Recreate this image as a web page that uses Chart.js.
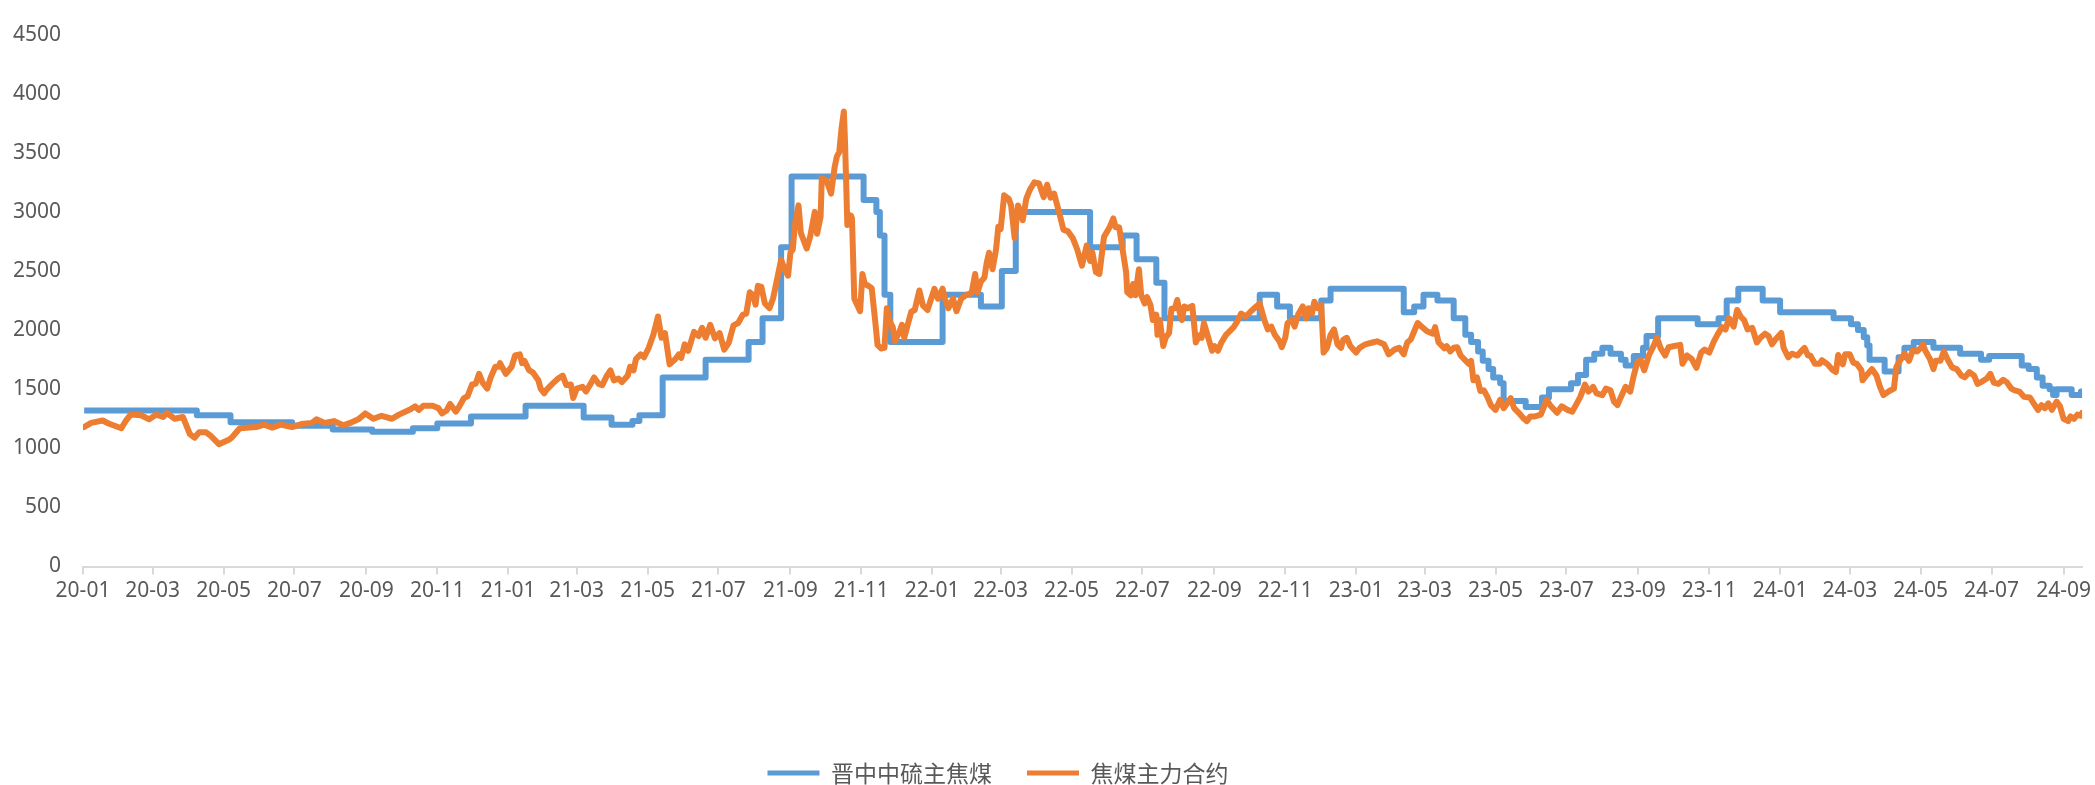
<!DOCTYPE html>
<html>
<head>
<meta charset="utf-8">
<script src="https://cdn.jsdelivr.net/npm/chart.js@4.4.1/dist/chart.umd.min.js"></script>
<style>
  html, body { margin: 0; padding: 0; background: #fff; }
  #wrap { position: relative; width: 2095px; height: 785px; }
</style>
</head>
<body>
<div id="wrap"><canvas id="chart"></canvas></div>
<script>
// 晋中中硫主焦煤 spot price: date of each price change and the new price
const spotDates = [
  '2020-01-02', '2020-04-08', '2020-05-07', '2020-06-29', '2020-08-03', '2020-09-06', '2020-10-11',
  '2020-11-01', '2020-11-30', '2021-01-16', '2021-03-07', '2021-03-31', '2021-04-18', '2021-04-24',
  '2021-05-14', '2021-06-20', '2021-07-27', '2021-08-08', '2021-08-24', '2021-09-02', '2021-11-03',
  '2021-11-14', '2021-11-17', '2021-11-21', '2021-11-26', '2022-01-10', '2022-02-12', '2022-03-02',
  '2022-03-14', '2022-05-17', '2022-06-14', '2022-06-26', '2022-07-13', '2022-07-20', '2022-10-10',
  '2022-10-25', '2022-11-05', '2022-12-02', '2022-12-10', '2023-02-11', '2023-02-20', '2023-02-28',
  '2023-03-12', '2023-03-26', '2023-04-05', '2023-04-10', '2023-04-16', '2023-04-20', '2023-04-25',
  '2023-04-29', '2023-05-05', '2023-05-08', '2023-05-27', '2023-06-10', '2023-06-16', '2023-07-05',
  '2023-07-11', '2023-07-18', '2023-07-25', '2023-08-01', '2023-08-08', '2023-08-17', '2023-08-21',
  '2023-08-28', '2023-09-05', '2023-09-08', '2023-09-18', '2023-10-22', '2023-11-09', '2023-11-16',
  '2023-11-26', '2023-12-17', '2024-01-01', '2024-02-16', '2024-03-02', '2024-03-08', '2024-03-13',
  '2024-03-16', '2024-03-18', '2024-03-31', '2024-04-12', '2024-04-17', '2024-04-25', '2024-05-12',
  '2024-06-04', '2024-06-22', '2024-06-29', '2024-07-27', '2024-08-02', '2024-08-09', '2024-08-14',
  '2024-08-20', '2024-08-23', '2024-08-26', '2024-09-08', '2024-09-16', '2024-09-17'
];
const spotPrices = [
  1320, 1280, 1220, 1190, 1160, 1140, 1170,
  1210, 1270, 1360, 1260, 1200, 1230, 1280,
  1600, 1750, 1900, 2100, 2700, 3300, 3100,
  3000, 2800, 2300, 1900, 2300, 2200, 2500,
  3000, 2700, 2800, 2600, 2400, 2100, 2300,
  2200, 2100, 2250, 2350, 2150, 2200, 2300,
  2250, 2100, 1960, 1900, 1820, 1740, 1670,
  1600, 1550, 1400, 1350, 1430, 1500, 1550,
  1620, 1750, 1800, 1850, 1800, 1750, 1700,
  1780, 1850, 1950, 2100, 2050, 2100, 2250,
  2350, 2250, 2150, 2100, 2050, 2000, 1940,
  1870, 1750, 1650, 1770, 1850, 1900, 1850,
  1800, 1750, 1780, 1700, 1670, 1600, 1530,
  1500, 1450, 1500, 1450, 1480, 1480
];

// 焦煤主力合约 closing prices
const futuresDates = [
  '2020-01-02', '2020-01-08', '2020-01-18', '2020-01-23', '2020-02-03', '2020-02-07', '2020-02-11', '2020-02-20',
  '2020-02-27', '2020-03-04', '2020-03-10', '2020-03-13', '2020-03-20', '2020-03-27', '2020-04-02', '2020-04-06',
  '2020-04-10', '2020-04-16', '2020-04-20', '2020-04-27', '2020-05-06', '2020-05-08', '2020-05-15', '2020-05-29',
  '2020-06-05', '2020-06-12', '2020-06-19', '2020-06-29', '2020-07-07', '2020-07-16', '2020-07-20', '2020-07-27',
  '2020-08-04', '2020-08-12', '2020-08-18', '2020-08-25', '2020-08-31', '2020-09-07', '2020-09-14', '2020-09-23',
  '2020-09-29', '2020-10-09', '2020-10-13', '2020-10-16', '2020-10-20', '2020-10-28', '2020-11-02', '2020-11-05',
  '2020-11-09', '2020-11-12', '2020-11-17', '2020-11-20', '2020-11-24', '2020-11-27', '2020-12-01', '2020-12-04',
  '2020-12-07', '2020-12-10', '2020-12-14', '2020-12-17', '2020-12-21', '2020-12-24', '2020-12-25', '2020-12-30',
  '2021-01-04', '2021-01-07', '2021-01-11', '2021-01-13', '2021-01-15', '2021-01-19', '2021-01-22', '2021-01-27',
  '2021-01-29', '2021-02-01', '2021-02-03', '2021-02-08', '2021-02-13', '2021-02-17', '2021-02-20', '2021-02-24',
  '2021-02-26', '2021-03-01', '2021-03-06', '2021-03-09', '2021-03-13', '2021-03-16', '2021-03-20', '2021-03-23',
  '2021-03-27', '2021-03-30', '2021-04-02', '2021-04-06', '2021-04-09', '2021-04-14', '2021-04-16', '2021-04-19',
  '2021-04-21', '2021-04-25', '2021-04-28', '2021-05-02', '2021-05-06', '2021-05-10', '2021-05-13', '2021-05-16',
  '2021-05-20', '2021-05-25', '2021-05-28', '2021-05-30', '2021-06-02', '2021-06-05', '2021-06-10', '2021-06-14',
  '2021-06-17', '2021-06-20', '2021-06-24', '2021-06-28', '2021-07-02', '2021-07-06', '2021-07-10', '2021-07-14',
  '2021-07-18', '2021-07-22', '2021-07-25', '2021-07-28', '2021-07-31', '2021-08-02', '2021-08-04', '2021-08-07',
  '2021-08-10', '2021-08-14', '2021-08-17', '2021-08-20', '2021-08-24', '2021-08-27', '2021-08-30', '2021-09-01',
  '2021-09-03', '2021-09-05', '2021-09-08', '2021-09-10', '2021-09-12', '2021-09-15', '2021-09-18', '2021-09-22',
  '2021-09-24', '2021-09-27', '2021-09-28', '2021-10-02', '2021-10-06', '2021-10-09', '2021-10-11', '2021-10-13',
  '2021-10-15', '2021-10-17', '2021-10-18', '2021-10-20', '2021-10-23', '2021-10-24', '2021-10-26', '2021-10-31',
  '2021-11-02', '2021-11-04', '2021-11-07', '2021-11-10', '2021-11-13', '2021-11-15', '2021-11-18', '2021-11-21',
  '2021-11-23', '2021-11-26', '2021-11-28', '2021-11-30', '2021-12-04', '2021-12-06', '2021-12-08', '2021-12-11',
  '2021-12-14', '2021-12-17', '2021-12-21', '2021-12-24', '2021-12-28', '2022-01-03', '2022-01-06', '2022-01-10',
  '2022-01-12', '2022-01-15', '2022-01-19', '2022-01-22', '2022-01-26', '2022-01-30', '2022-02-04', '2022-02-07',
  '2022-02-09', '2022-02-12', '2022-02-15', '2022-02-17', '2022-02-19', '2022-02-22', '2022-02-25', '2022-02-27',
  '2022-03-01', '2022-03-04', '2022-03-08', '2022-03-10', '2022-03-13', '2022-03-16', '2022-03-20', '2022-03-23',
  '2022-03-26', '2022-03-30', '2022-04-03', '2022-04-07', '2022-04-10', '2022-04-13', '2022-04-16', '2022-04-21',
  '2022-04-24', '2022-04-28', '2022-05-02', '2022-05-06', '2022-05-10', '2022-05-14', '2022-05-17', '2022-05-19',
  '2022-05-22', '2022-05-25', '2022-05-29', '2022-06-03', '2022-06-06', '2022-06-08', '2022-06-11', '2022-06-14',
  '2022-06-17', '2022-06-18', '2022-06-21', '2022-06-23', '2022-06-25', '2022-06-28', '2022-06-30', '2022-07-03',
  '2022-07-05', '2022-07-08', '2022-07-10', '2022-07-13', '2022-07-14', '2022-07-16', '2022-07-19', '2022-07-21',
  '2022-07-24', '2022-07-26', '2022-07-29', '2022-07-31', '2022-08-02', '2022-08-04', '2022-08-06', '2022-08-09',
  '2022-08-13', '2022-08-16', '2022-08-19', '2022-08-21', '2022-08-23', '2022-08-26', '2022-08-30', '2022-09-01',
  '2022-09-04', '2022-09-07', '2022-09-11', '2022-09-14', '2022-09-18', '2022-09-21', '2022-09-24', '2022-09-28',
  '2022-10-02', '2022-10-07', '2022-10-10', '2022-10-14', '2022-10-17', '2022-10-20', '2022-10-23', '2022-10-27',
  '2022-10-29', '2022-11-01', '2022-11-03', '2022-11-07', '2022-11-09', '2022-11-12', '2022-11-16', '2022-11-19',
  '2022-11-21', '2022-11-24', '2022-11-26', '2022-11-29', '2022-12-02', '2022-12-04', '2022-12-07', '2022-12-10',
  '2022-12-13', '2022-12-16', '2022-12-19', '2022-12-21', '2022-12-24', '2022-12-27', '2023-01-01', '2023-01-04',
  '2023-01-09', '2023-01-15', '2023-01-19', '2023-01-25', '2023-01-29', '2023-02-03', '2023-02-07', '2023-02-11',
  '2023-02-14', '2023-02-17', '2023-02-20', '2023-02-23', '2023-02-27', '2023-03-03', '2023-03-08', '2023-03-10',
  '2023-03-13', '2023-03-18', '2023-03-20', '2023-03-23', '2023-03-26', '2023-03-29', '2023-04-01', '2023-04-04',
  '2023-04-08', '2023-04-10', '2023-04-12', '2023-04-15', '2023-04-18', '2023-04-21', '2023-04-24', '2023-04-27',
  '2023-05-01', '2023-05-05', '2023-05-08', '2023-05-11', '2023-05-14', '2023-05-17', '2023-05-21', '2023-05-25',
  '2023-05-28', '2023-05-31', '2023-06-04', '2023-06-09', '2023-06-14', '2023-06-17', '2023-06-23', '2023-06-27',
  '2023-07-02', '2023-07-06', '2023-07-10', '2023-07-13', '2023-07-17', '2023-07-20', '2023-07-24', '2023-07-27',
  '2023-08-01', '2023-08-04', '2023-08-08', '2023-08-11', '2023-08-14', '2023-08-17', '2023-08-21', '2023-08-25',
  '2023-08-28', '2023-08-31', '2023-09-03', '2023-09-06', '2023-09-10', '2023-09-14', '2023-09-17', '2023-09-20',
  '2023-09-24', '2023-09-27', '2023-10-02', '2023-10-07', '2023-10-09', '2023-10-13', '2023-10-17', '2023-10-21',
  '2023-10-25', '2023-10-28', '2023-11-01', '2023-11-05', '2023-11-08', '2023-11-12', '2023-11-15', '2023-11-18',
  '2023-11-22', '2023-11-25', '2023-11-28', '2023-12-01', '2023-12-04', '2023-12-08', '2023-12-12', '2023-12-15',
  '2023-12-19', '2023-12-22', '2023-12-25', '2023-12-28', '2024-01-02', '2024-01-04', '2024-01-08', '2024-01-11',
  '2024-01-16', '2024-01-19', '2024-01-22', '2024-01-25', '2024-01-27', '2024-01-31', '2024-02-04', '2024-02-06',
  '2024-02-11', '2024-02-15', '2024-02-18', '2024-02-20', '2024-02-24', '2024-02-26', '2024-03-01', '2024-03-04',
  '2024-03-07', '2024-03-11', '2024-03-12', '2024-03-16', '2024-03-20', '2024-03-24', '2024-03-27', '2024-03-30',
  '2024-04-04', '2024-04-08', '2024-04-10', '2024-04-14', '2024-04-17', '2024-04-21', '2024-04-24', '2024-04-28',
  '2024-05-01', '2024-05-03', '2024-05-05', '2024-05-09', '2024-05-12', '2024-05-14', '2024-05-18', '2024-05-21',
  '2024-05-24', '2024-05-28', '2024-06-01', '2024-06-05', '2024-06-08', '2024-06-12', '2024-06-16', '2024-06-19',
  '2024-06-22', '2024-06-27', '2024-06-30', '2024-07-03', '2024-07-07', '2024-07-11', '2024-07-14', '2024-07-18',
  '2024-07-21', '2024-07-25', '2024-07-29', '2024-08-03', '2024-08-06', '2024-08-10', '2024-08-13', '2024-08-16',
  '2024-08-19', '2024-08-22', '2024-08-26', '2024-08-29', '2024-09-01', '2024-09-05', '2024-09-07', '2024-09-10',
  '2024-09-13', '2024-09-16', '2024-09-17'
];
const futuresPrices = [
  1180, 1215, 1235, 1210, 1170, 1235, 1285, 1280,
  1245, 1285, 1265, 1300, 1250, 1265, 1120, 1090,
  1135, 1135, 1105, 1035, 1075, 1090, 1170, 1180,
  1200, 1175, 1200, 1180, 1205, 1215, 1245, 1215,
  1230, 1195, 1215, 1245, 1295, 1250, 1275, 1250,
  1285, 1330, 1355, 1325, 1360, 1360, 1340, 1295,
  1320, 1375, 1310, 1355, 1425, 1440, 1540, 1545,
  1630, 1555, 1505, 1600, 1690, 1690, 1720, 1630,
  1690, 1785, 1795, 1720, 1740, 1660, 1645, 1575,
  1505, 1465, 1495, 1545, 1590, 1615, 1535, 1540,
  1425, 1505, 1520, 1480, 1545, 1600, 1545, 1535,
  1615, 1660, 1575, 1590, 1560, 1615, 1690, 1660,
  1755, 1795, 1770, 1850, 1960, 2115, 1935, 1975,
  1710, 1755, 1795, 1765, 1880, 1825, 1985, 1950,
  2020, 1935, 2045, 1930, 1975, 1835, 1895, 2040,
  2060, 2130, 2140, 2320, 2295, 2215, 2375, 2365,
  2225, 2185, 2265, 2405, 2595, 2515, 2460, 2655,
  2680, 2905, 3055, 2820, 2770, 2690, 2790, 3000,
  2815, 2960, 3285, 3265, 3155, 3375, 3470, 3505,
  3705, 3850, 3595, 2890, 2970, 2945, 2265, 2160,
  2475, 2390, 2375, 2355, 2075, 1875, 1845, 1850,
  2185, 2060, 2030, 1905, 1990, 2045, 1935, 2045,
  2155, 2170, 2335, 2210, 2170, 2350, 2265, 2350,
  2265, 2185, 2265, 2160, 2265, 2295, 2315, 2475,
  2320, 2410, 2445, 2570, 2655, 2515, 2680, 2875,
  2855, 3140, 3110, 3055, 2780, 3055, 2930, 3110,
  3185, 3250, 3240, 3125, 3230, 3120, 3155, 2970,
  2850, 2835, 2780, 2680, 2545, 2715, 2585, 2655,
  2490, 2475, 2790, 2875, 2945, 2870, 2870, 2680,
  2490, 2320, 2295, 2390, 2295, 2515, 2295, 2225,
  2280, 2210, 2085, 2130, 1960, 2085, 1865, 1935,
  1975, 2180, 2185, 2255, 2155, 2085, 2200, 2185,
  2205, 1895, 1955, 1935, 2060, 1960, 1825, 1865,
  1825, 1895, 1960, 1990, 2030, 2080, 2140, 2115,
  2155, 2200, 2225, 2085, 2005, 2030, 1960, 1905,
  1855, 1935, 2060, 2085, 2030, 2130, 2200, 2100,
  2185, 2140, 2240, 2185, 2210, 1810, 1850, 1960,
  2005, 1880, 1850, 1920, 1935, 1865, 1810, 1850,
  1880, 1895, 1905, 1880, 1795, 1835, 1850, 1795,
  1895, 1920, 1990, 2060, 2025, 1990, 1970, 2025,
  1895, 1845, 1865, 1820, 1850, 1855, 1785, 1755,
  1715, 1740, 1575, 1600, 1485, 1490, 1435, 1365,
  1325, 1410, 1340, 1380, 1425, 1340, 1300, 1255,
  1230, 1270, 1270, 1285, 1410, 1365, 1300, 1355,
  1325, 1310, 1380, 1435, 1540, 1480, 1520, 1465,
  1450, 1505, 1490, 1395, 1365, 1435, 1520, 1480,
  1615, 1725, 1745, 1660, 1785, 1865, 1935, 1850,
  1785, 1855, 1865, 1875, 1715, 1785, 1755, 1680,
  1810, 1835, 1810, 1905, 1960, 2025, 2005, 2100,
  2030, 2170, 2115, 2085, 2005, 2020, 1895, 1935,
  1970, 1950, 1880, 1920, 1975, 1850, 1770, 1800,
  1785, 1820, 1850, 1785, 1785, 1715, 1715, 1745,
  1710, 1665, 1645, 1790, 1710, 1795, 1795, 1725,
  1715, 1660, 1575, 1625, 1670, 1615, 1520, 1450,
  1485, 1505, 1685, 1755, 1800, 1740, 1825, 1820,
  1850, 1880, 1825, 1755, 1670, 1740, 1740, 1820,
  1755, 1685, 1670, 1615, 1600, 1645, 1615, 1545,
  1560, 1590, 1630, 1555, 1545, 1580, 1560, 1505,
  1490, 1480, 1435, 1430, 1385, 1325, 1365, 1340,
  1380, 1325, 1395, 1355, 1250, 1230, 1270, 1250,
  1285, 1275, 1300
];

// x axis ticks, every other month
const tickMonths = [
  '2020-01', '2020-03', '2020-05', '2020-07', '2020-09', '2020-11',
  '2021-01', '2021-03', '2021-05', '2021-07', '2021-09', '2021-11',
  '2022-01', '2022-03', '2022-05', '2022-07', '2022-09', '2022-11',
  '2023-01', '2023-03', '2023-05', '2023-07', '2023-09', '2023-11',
  '2024-01', '2024-03', '2024-05', '2024-07', '2024-09'
];

const ORIGIN = Date.parse('2020-01-01');
const toDay = s => (Date.parse(s) - ORIGIN) / 86400000;
const toPoints = (dates, values) => dates.map((d, i) => ({ x: toDay(d), y: values[i] }));

const axisFont = { family: "'Noto Sans', sans-serif", size: 21 };
const legendFont = { family: "'Noto Sans CJK SC', sans-serif", size: 23 };

// shift the legend row left a little, Chart.js always centres it
const legendNudge = {
  id: 'legendNudge',
  afterLayout(chart) {
    chart.legend.left -= 46;
    chart.legend.right -= 46;
  }
};

const ctx = document.getElementById('chart');

new Chart(ctx, {
  type: 'line',
  data: {
    datasets: [
      {
        label: '晋中中硫主焦煤',
        data: toPoints(spotDates, spotPrices),
        borderColor: '#5B9BD5',
        backgroundColor: '#5B9BD5',
        borderWidth: 6,
        stepped: 'before', // price holds until the next change date
        pointRadius: 0,
        borderJoinStyle: 'round',
        order: 1
      },
      {
        label: '焦煤主力合约',
        data: toPoints(futuresDates, futuresPrices),
        borderColor: '#ED7D31',
        backgroundColor: '#ED7D31',
        borderWidth: 6,
        tension: 0,
        pointRadius: 0,
        borderJoinStyle: 'round',
        borderCapStyle: 'round',
        order: 0
      }
    ]
  },
  options: {
    animation: false,
    responsive: true,
    maintainAspectRatio: false,
    events: [],
    layout: {
      padding: { top: 21, right: 7, bottom: -9.5, left: 0 }
    },
    scales: {
      x: {
        type: 'linear',
        min: 0,
        max: toDay('2024-09-17'),
        afterBuildTicks: axis => {
          axis.ticks = tickMonths.map(m => ({ value: toDay(m + '-01') }));
        },
        afterFit: axis => {
          axis.height = 160;
        },
        ticks: {
          autoSkip: false,
          maxRotation: 0,
          padding: 4,
          color: '#595959',
          font: axisFont,
          callback: (value, i) => tickMonths[i].slice(2)
        },
        grid: {
          drawOnChartArea: false,
          color: '#D9D9D9',
          lineWidth: 2,
          tickLength: 8
        },
        border: { color: '#D9D9D9', width: 2 }
      },
      y: {
        min: 0,
        max: 4500,
        afterFit: axis => {
          axis.width = 83;
        },
        ticks: {
          stepSize: 500,
          padding: 22,
          color: '#595959',
          font: axisFont,
          callback: value => String(value)
        },
        grid: { display: false, drawTicks: false },
        border: { display: false }
      }
    },
    plugins: {
      tooltip: { enabled: false },
      legend: {
        position: 'bottom',
        labels: {
          boxWidth: 52,
          boxHeight: 5,
          padding: 35,
          color: '#595959',
          font: legendFont,
          sort: (a, b) => a.datasetIndex - b.datasetIndex,
          generateLabels: chart =>
            Chart.defaults.plugins.legend.labels.generateLabels(chart).map(item => ({
              ...item,
              lineWidth: 0,
              fillStyle: item.strokeStyle
            }))
        }
      }
    }
  },
  plugins: [legendNudge]
});
</script>
</body>
</html>
